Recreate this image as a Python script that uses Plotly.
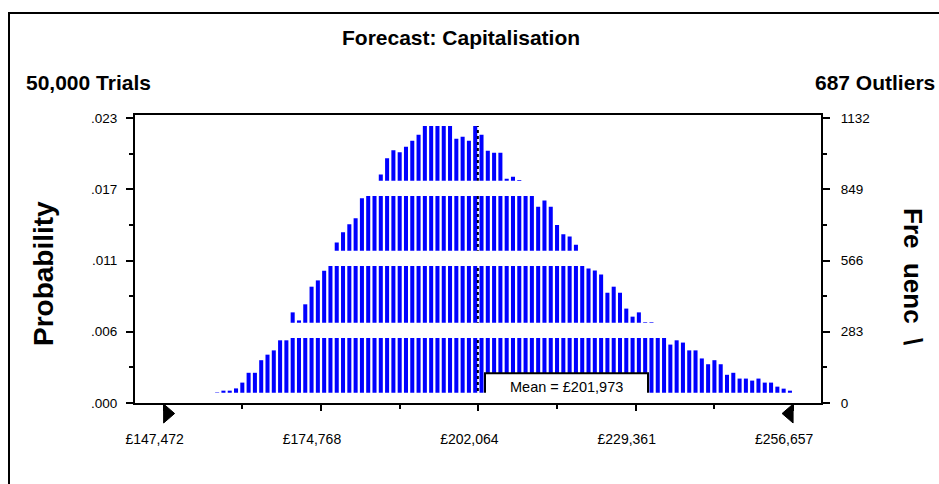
import plotly.graph_objects as go

# ---------------- data ----------------
display_min = 147472
display_max = 256657
n_cells = 100
first_cell = 8  # first cell with a visible bar

# frequencies (trials per cell), cells 8..99
counts = [
    42, 49, 49, 58, 81, 120, 120, 170, 192, 209, 249, 249,
    360, 328, 392, 462, 487, 525, 575, 638, 678, 710, 734, 813,
    845, 862, 908, 972, 1004, 996, 1018, 1042, 1066, 1112, 1125, 1132, 1128, 1118,
    1050, 1058, 1042, 1110, 1066, 1002, 994, 994, 891, 899, 886, 858, 838,
    780, 804, 780, 707, 670, 661, 629, 590, 534, 526, 510, 438, 462, 438,
    375, 343, 360, 321, 321, 300, 285, 232, 249, 240, 209, 209, 177,
    154, 170, 154, 112, 120, 97, 97, 89, 97, 81, 81, 65, 57, 49,
]

mean_value = 201973
mean_label = "Mean = £201,973"
trials_label = "50,000 Trials"
outliers_label = "687 Outliers"
title_text = "Forecast: Capitalisation"

x_tick_vals = [147472, 174768, 202064, 229361, 256657]
x_tick_labels = ["£147,472", "£174,768", "£202,064", "£229,361", "£256,657"]
x_minor_vals = [161120, 188416, 215712, 243009]

freq_tick_vals = [0, 283, 566, 849, 1132]
prob_tick_labels = [".000", ".006", ".011", ".017", ".023"]
freq_tick_labels = ["0", "283", "566", "849", "1132"]
y_minor_vals = [141.5, 424.5, 707.5, 990.5]

# ---------------- styling / geometry ----------------
x_range = [142504, 261498]
y_range = [0, 1144]
gap_bands = [(-20, 41), (258, 319), (544, 605), (822, 883), (1100, 1200)]
FONT = "Liberation Sans, Arial, sans-serif"
W, H = 939, 484
ML, MR, MT, MB = 135, 118, 115, 81
PW, PH = W - ML - MR, H - MT - MB


def px_x(px):
    return (px - ML) / PW


def px_y(py):
    return (H - MB - py) / PH


def val_to_paper_x(v):
    return (v - x_range[0]) / (x_range[1] - x_range[0])


cell_w = (display_max - display_min) / n_cells
centers = [display_min + (first_cell + k + 0.5) * cell_w for k in range(len(counts))]

fig = go.Figure()
fig.add_trace(go.Bar(x=centers, y=counts, width=700,
                     marker=dict(color="#0000FF", line=dict(width=0)),
                     showlegend=False, hoverinfo="skip"))
fig.add_trace(go.Scatter(x=[centers[0]], y=[0], yaxis="y2", mode="markers",
                         marker=dict(opacity=0), showlegend=False, hoverinfo="skip"))

tick_style = dict(ticks="outside", tickwidth=2, tickcolor="black",
                  showline=True, linewidth=2, linecolor="black",
                  showgrid=False, zeroline=False)

fig.update_layout(
    width=W, height=H,
    margin=dict(l=ML, r=MR, t=MT, b=MB, pad=0),
    paper_bgcolor="white", plot_bgcolor="white",
    barmode="overlay",
    xaxis=dict(range=x_range, mirror=True, ticklen=6,
               tickvals=x_tick_vals, ticktext=x_tick_labels,
               ticklabelshift=-9, ticklabelstandoff=16,
               tickfont=dict(family=FONT, size=14, color="black"),
               minor=dict(tickvals=x_minor_vals, ticks="outside", ticklen=4,
                          tickwidth=2, tickcolor="black", showgrid=False),
               **tick_style),
    yaxis=dict(range=y_range, ticklen=7,
               tickvals=freq_tick_vals, ticktext=prob_tick_labels,
               ticklabelstandoff=6,
               tickfont=dict(family=FONT, size=13.5, color="black"),
               minor=dict(tickvals=y_minor_vals, ticks="outside", ticklen=4,
                          tickwidth=2, tickcolor="black", showgrid=False),
               **tick_style),
    yaxis2=dict(range=y_range, overlaying="y", side="right", ticklen=7,
                tickvals=freq_tick_vals, ticktext=freq_tick_labels,
                ticklabelstandoff=8,
                tickfont=dict(family=FONT, size=13.5, color="black"),
                minor=dict(tickvals=y_minor_vals, ticks="outside", ticklen=4,
                           tickwidth=2, tickcolor="black", showgrid=False),
                **tick_style),
)

shapes = []
# mean line
shapes.append(dict(type="line", xref="x", yref="y", x0=mean_value, x1=mean_value,
                   y0=0, y1=y_range[1], line=dict(color="black", width=2, dash="dot"),
                   layer="above"))
# mean box
shapes.append(dict(type="rect", xref="x", yref="y", x0=203216, x1=231490, y0=0, y1=118,
                   fillcolor="white", line=dict(color="black", width=2), layer="above"))
# white horizontal bands (as in the reference rendering)
for y0, y1 in gap_bands:
    shapes.append(dict(type="rect", xref="paper", yref="y", x0=2 / PW, x1=1 - 2 / PW,
                       y0=y0, y1=y1, fillcolor="white", line=dict(width=0), layer="above"))
# outer frame (left and top edges)
shapes.append(dict(type="line", xref="paper", yref="paper", x0=px_x(9), x1=px_x(9),
                   y0=px_y(12.5), y1=px_y(490), line=dict(color="black", width=2)))
shapes.append(dict(type="line", xref="paper", yref="paper", x0=px_x(8), x1=px_x(945),
                   y0=px_y(13), y1=px_y(13), line=dict(color="black", width=2)))
# certainty range triangles
lx = val_to_paper_x(display_min)
rx = val_to_paper_x(display_max)
tw = 11 / PW
yt, yb, ym = px_y(404), px_y(423), px_y(413.5)
shapes.append(dict(type="path", xref="paper", yref="paper",
                   path=f"M {lx} {yt} L {lx + tw} {ym} L {lx} {yb} Z",
                   fillcolor="black", line=dict(color="black", width=1)))
shapes.append(dict(type="path", xref="paper", yref="paper",
                   path=f"M {rx} {yt} L {rx - tw} {ym} L {rx} {yb} Z",
                   fillcolor="black", line=dict(color="black", width=1)))
fig.update_layout(shapes=shapes)

ann = []
ann.append(dict(text=f"<b>{title_text}</b>", xref="paper", yref="paper",
                x=px_x(461), y=px_y(38), xanchor="center", yanchor="middle",
                showarrow=False, font=dict(family=FONT, size=21, color="black")))
ann.append(dict(text=f"<b>{trials_label}</b>", xref="paper", yref="paper",
                x=px_x(24), y=px_y(83), xanchor="left", yanchor="middle",
                showarrow=False, font=dict(family=FONT, size=21, color="black")))
ann.append(dict(text=f"<b>{outliers_label}</b>", xref="paper", yref="paper",
                x=px_x(937), y=px_y(83), xanchor="right", yanchor="middle",
                showarrow=False, font=dict(family=FONT, size=21, color="black")))
ann.append(dict(text="<b>Probability</b>", xref="paper", yref="paper",
                x=px_x(43), y=px_y(274), xanchor="center", yanchor="middle",
                textangle=-90, showarrow=False,
                font=dict(family=FONT, size=28, color="black")))
ann.append(dict(text="<b>Fre\u00a0\u00a0uenc\u00a0\u00a0\\</b>", xref="paper", yref="paper",
                x=px_x(913), y=px_y(276), xanchor="center", yanchor="middle",
                textangle=90, showarrow=False,
                font=dict(family=FONT, size=26, color="black")))
ann.append(dict(text=mean_label, xref="x", yref="y",
                x=(203216 + 231490) / 2, y=64, xanchor="center", yanchor="middle",
                showarrow=False, font=dict(family=FONT, size=14.5, color="black")))
fig.update_layout(annotations=ann)

fig.write_html("out.html", config={"displayModeBar": False},
               post_script="document.body.style.margin='0';document.body.style.overflow='hidden';")
